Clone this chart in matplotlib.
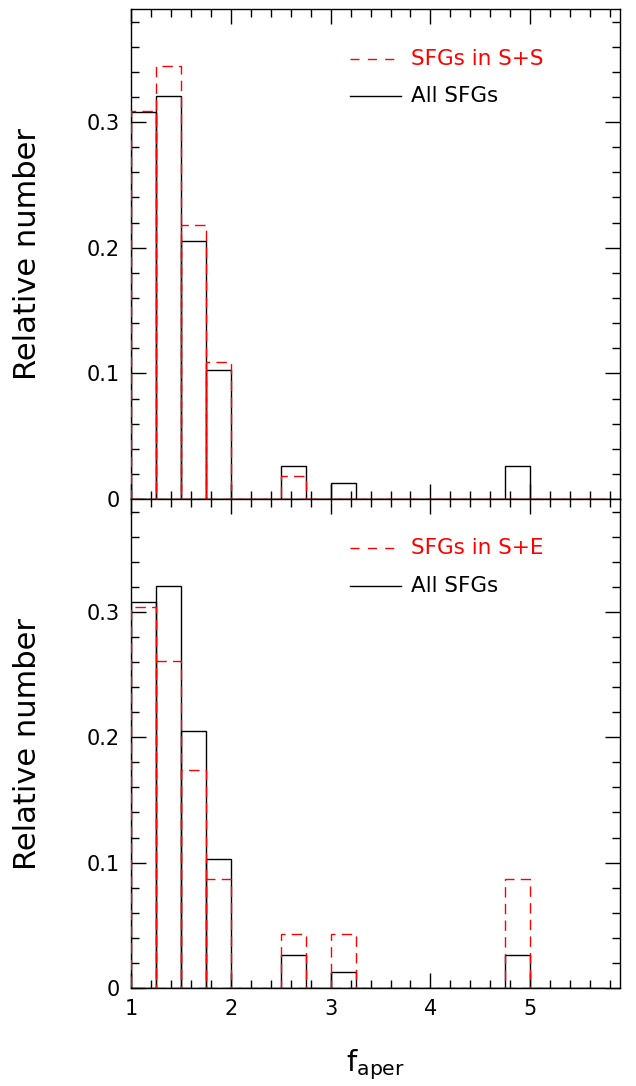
import matplotlib
matplotlib.use("Agg")
import matplotlib.pyplot as plt
from matplotlib.ticker import MultipleLocator
import numpy as np

# ---- data ----
bin_left = [1.0 + 0.25 * k for k in range(19)]
bin_width = 0.25
all_sfgs = [0.308, 0.321, 0.205, 0.103, 0, 0, 0.026, 0, 0.013, 0, 0, 0, 0, 0, 0, 0.026, 0, 0, 0]
sfgs_ss = [0.309, 0.345, 0.218, 0.109, 0, 0, 0.018, 0, 0, 0, 0, 0, 0, 0, 0, 0, 0, 0, 0]
sfgs_se = [0.304, 0.261, 0.174, 0.087, 0, 0, 0.043, 0, 0.043, 0, 0, 0, 0, 0, 0, 0.087, 0, 0, 0]
x_ticks = [1, 2, 3, 4, 5]
y_ticks = [0, 0.1, 0.2, 0.3]
y_ticklabels = ["0", "0.1", "0.2", "0.3"]
labels_red = ["SFGs in S+S", "SFGs in S+E"]
label_black = "All SFGs"

plt.rcParams['font.family'] = ['DejaVu Sans']
plt.rcParams['mathtext.default'] = 'regular'

fig = plt.figure(figsize=(6.36, 10.86), dpi=100)
ax_top = fig.add_axes([0.206, 0.5405, 0.769, 0.4512])
ax_bot = fig.add_axes([0.206, 0.0902, 0.769, 0.4503])

red = '#ff0000'
dash = (0, (7.5, 4.5))

for ax, redvals, redlab in [(ax_top, sfgs_ss, labels_red[0]), (ax_bot, sfgs_se, labels_red[1])]:
    ax.bar(bin_left, all_sfgs, width=bin_width, align='edge', fill=False,
           edgecolor='black', linewidth=1.0, zorder=2)
    ax.bar(bin_left, redvals, width=bin_width, align='edge', fill=False,
           edgecolor=red, linewidth=1.0, linestyle=dash, zorder=3)
    ax.set_xlim(1, 5.9)
    ax.set_ylim(0, 0.39)
    ax.set_xticks(x_ticks)
    ax.set_yticks(y_ticks)
    ax.set_yticklabels(y_ticklabels)
    ax.xaxis.set_minor_locator(MultipleLocator(0.2))
    ax.yaxis.set_minor_locator(MultipleLocator(0.02))
    ax.tick_params(which='both', direction='in', top=True, right=True, width=1.0,
                   labelsize=15, pad=8)
    ax.tick_params(which='major', length=11)
    ax.tick_params(which='minor', length=6)
    for s in ax.spines.values():
        s.set_linewidth(1.0)
    ax.set_ylabel("Relative number", fontsize=22)
    ax.yaxis.set_label_coords(-0.182, 0.5)
    # legend drawn manually
    ax.plot([0.448, 0.552], [0.899, 0.899], transform=ax.transAxes, color=red,
            linewidth=1.0, linestyle=(0, (6.5, 6)))
    ax.text(0.573, 0.899, redlab, transform=ax.transAxes, color=red, fontsize=15.5,
            va='center', ha='left')
    ax.plot([0.448, 0.552], [0.822, 0.822], transform=ax.transAxes, color='black',
            linewidth=1.0)
    ax.text(0.573, 0.822, label_black, transform=ax.transAxes, color='black', fontsize=15.5,
            va='center', ha='left')

ax_top.tick_params(labelbottom=False)
ax_bot.set_xlabel(r"f$_{aper}$", fontsize=21, labelpad=20)

fig.savefig("out.png", dpi=100)
